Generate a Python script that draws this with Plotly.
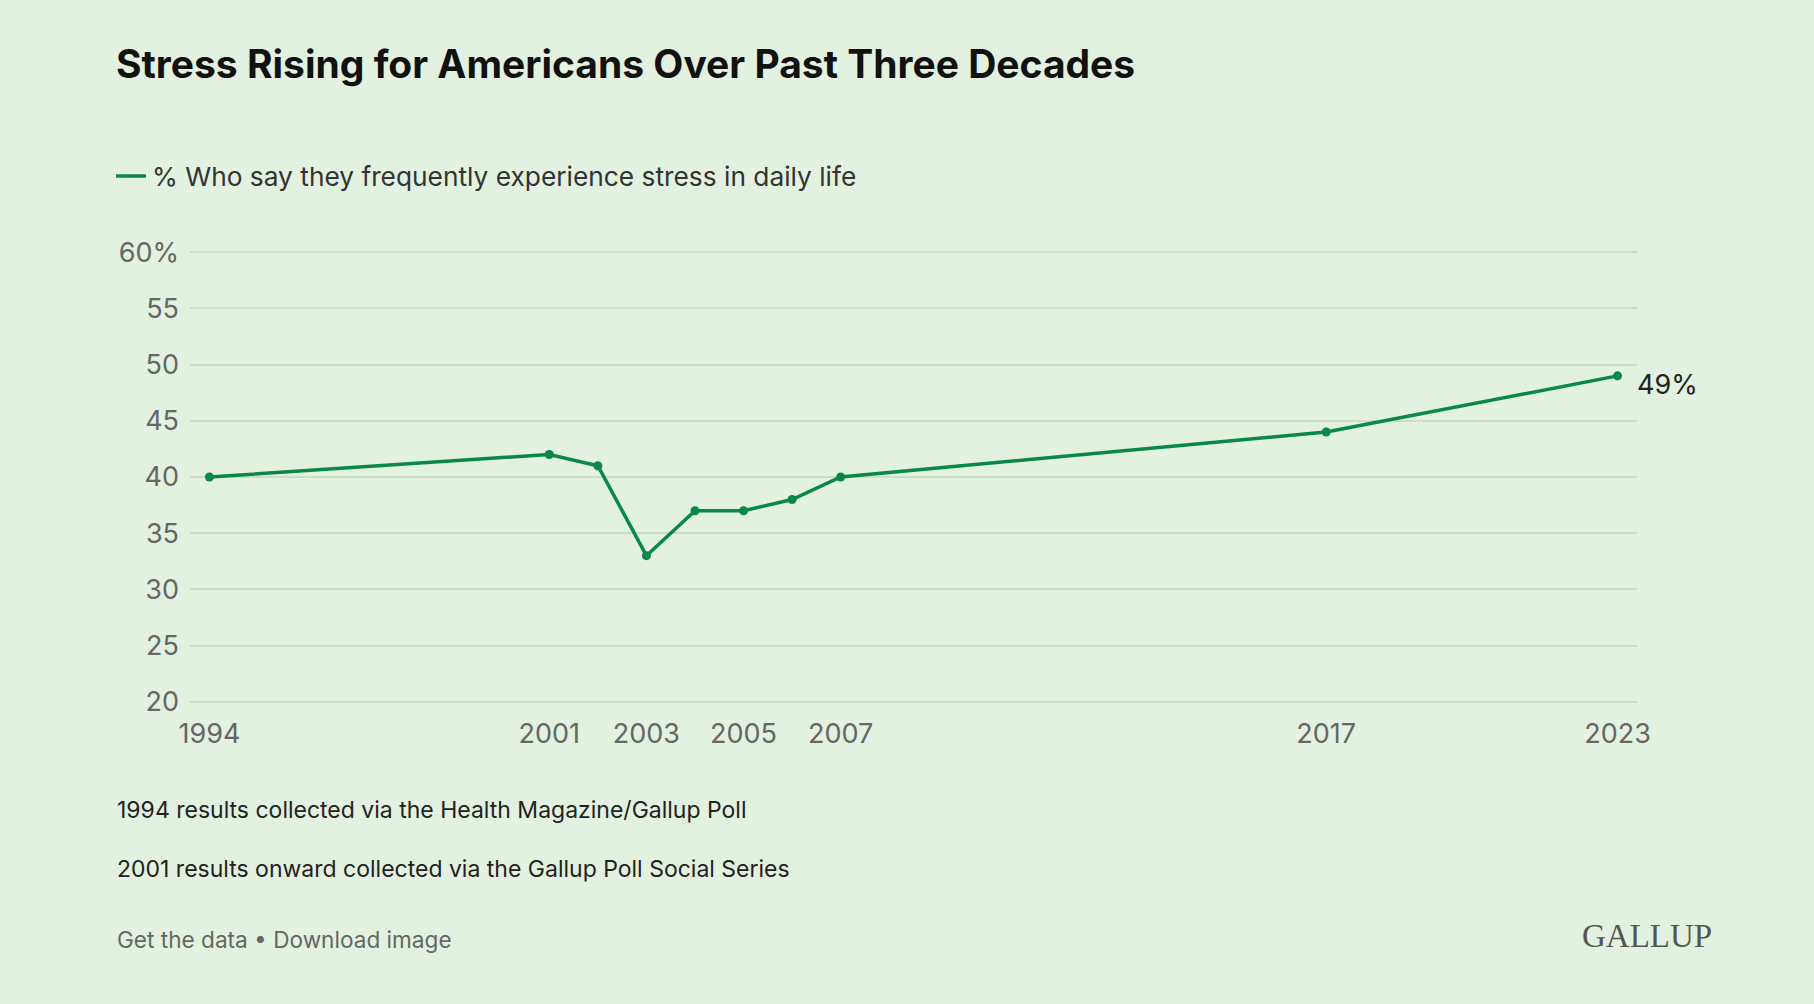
import plotly.graph_objects as go

# ---- data ----
years = [1994, 2001, 2002, 2003, 2004, 2005, 2006, 2007, 2017, 2023]
stress_pct = [40, 42, 41, 33, 37, 37, 38, 40, 44, 49]
x_tick_vals = [1994, 2001, 2003, 2005, 2007, 2017, 2023]
x_tick_text = ["1994", "2001", "2003", "2005", "2007", "2017", "2023"]
y_tick_vals = [20, 25, 30, 35, 40, 45, 50, 55, 60]
y_tick_text = ["20", "25", "30", "35", "40", "45", "50", "55", "60%"]

title_text = "Stress Rising for Americans Over Past Three Decades"
series_name = "% Who say they frequently experience stress in daily life"
note1 = "1994 results collected via the Health Magazine/Gallup Poll"
note2 = "2001 results onward collected via the Gallup Poll Social Series"
links_text = "Get the data • Download image"
brand_text = "GALLUP"

# ---- style ----
W, H = 1814, 1004
L, R, T, B = 190, 177, 250, 300
BG = "#E3F1E0"
GREEN = "#0A8847"
GRID = "#CDDDCB"
FONT = "Inter"

PW = W - L - R
PH = H - T - B


def px(xp):
    return (xp - L) / PW


def py(yp):
    return (H - B - yp) / PH


fig = go.Figure()
fig.add_trace(go.Scatter(
    x=years, y=stress_pct, mode="lines+markers",
    line=dict(color=GREEN, width=3.5),
    marker=dict(color=GREEN, size=9),
    name=series_name, showlegend=False, hoverinfo="x+y",
))

annotations = [
    dict(text="<b>" + title_text + "</b>", x=px(114), y=py(64), xref="paper", yref="paper",
         xanchor="left", yanchor="middle", showarrow=False,
         font=dict(family=FONT, size=39, color="#111111")),
    dict(text=series_name, x=px(150), y=py(176), xref="paper", yref="paper",
         xanchor="left", yanchor="middle", showarrow=False,
         font=dict(family=FONT, size=26.3, color="#333333")),
    dict(text=note1, x=px(115), y=py(810), xref="paper", yref="paper",
         xanchor="left", yanchor="middle", showarrow=False,
         font=dict(family=FONT, size=23, color="#222222")),
    dict(text=note2, x=px(115), y=py(869), xref="paper", yref="paper",
         xanchor="left", yanchor="middle", showarrow=False,
         font=dict(family=FONT, size=23, color="#222222")),
    dict(text=links_text, x=px(115), y=py(939), xref="paper", yref="paper",
         xanchor="left", yanchor="middle", showarrow=False,
         font=dict(family=FONT, size=22.6, color="#666666")),
    dict(text=brand_text, x=px(1580), y=py(936), xref="paper", yref="paper",
         xanchor="left", yanchor="middle", showarrow=False,
         font=dict(family="Liberation Serif", size=33, color="#555555")),
    dict(text=f"{stress_pct[-1]}%", x=years[-1], y=stress_pct[-1], xref="x", yref="y",
         xanchor="left", yanchor="middle", showarrow=False, xshift=17, yshift=-9,
         font=dict(family=FONT, size=27, color="#222222")),
]

fig.update_layout(
    width=W, height=H,
    paper_bgcolor=BG, plot_bgcolor=BG,
    margin=dict(l=L, r=R, t=T, b=B),
    annotations=annotations,
    shapes=[dict(type="line", xref="paper", yref="paper",
                 x0=px(116), x1=px(146), y0=py(176), y1=py(176),
                 line=dict(color=GREEN, width=3.5))],
    showlegend=False,
)
fig.update_xaxes(range=[1993.6, 2023.4], tickvals=x_tick_vals, ticktext=x_tick_text,
                 showgrid=False, zeroline=False, showline=False, ticks="",
                 tickfont=dict(family=FONT, size=27, color="#666666"),
                 ticklabelstandoff=11)
fig.update_yaxes(range=[19.8, 60.2], tickvals=y_tick_vals, ticktext=y_tick_text,
                 showgrid=True, gridcolor=GRID, gridwidth=1.5, zeroline=False,
                 showline=False, ticks="",
                 tickfont=dict(family=FONT, size=27, color="#666666"),
                 ticklabelstandoff=10)

fig.write_html("out.html", config={"displayModeBar": False},
               post_script="document.body.style.margin='0';")
